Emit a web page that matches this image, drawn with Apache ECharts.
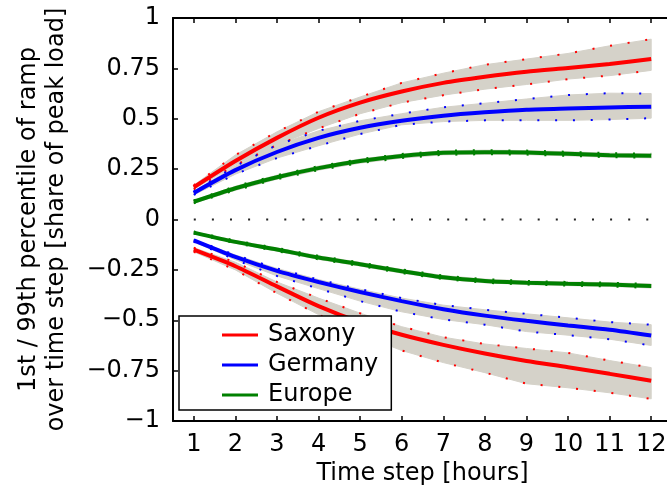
<!DOCTYPE html>
<html>
<head>
<meta charset="utf-8">
<script src="https://cdn.jsdelivr.net/npm/echarts@6/dist/echarts.min.js"></script>
<style>html,body{margin:0;padding:0;background:#fff}#c{width:667px;height:504px}</style>
</head>
<body>
<div id="c"></div>
<script>
// ---------- data ----------
const timeSteps = [1, 2, 3, 4, 5, 6, 7, 8, 9, 10, 11, 12];
const xTickValues = [1, 2, 3, 4, 5, 6, 7, 8, 9, 10, 11, 12];
const yTickValues = [-1, -0.75, -0.5, -0.25, 0, 0.25, 0.5, 0.75, 1];
const regionNames = ['Saxony', 'Germany', 'Europe'];

// 99th percentile (positive ramps)
const saxonyUp   = [0.16, 0.29, 0.405, 0.505, 0.58, 0.635, 0.678, 0.708, 0.733, 0.752, 0.772, 0.796];
const saxonyUpHi = [0.17, 0.32, 0.435, 0.535, 0.608, 0.678, 0.726, 0.768, 0.796, 0.824, 0.862, 0.895];
const saxonyUpLo = [0.15, 0.27, 0.37, 0.452, 0.525, 0.58, 0.617, 0.647, 0.67, 0.697, 0.714, 0.74];

const germanyUp   = [0.132, 0.245, 0.335, 0.405, 0.455, 0.49, 0.515, 0.532, 0.545, 0.551, 0.556, 0.56];
const germanyUpHi = [0.14, 0.265, 0.37, 0.44, 0.49, 0.525, 0.557, 0.577, 0.598, 0.618, 0.627, 0.625];
const germanyUpLo = [0.122, 0.225, 0.305, 0.366, 0.424, 0.47, 0.486, 0.492, 0.492, 0.492, 0.496, 0.503];

const europeUp   = [0.088, 0.155, 0.21, 0.255, 0.29, 0.315, 0.331, 0.334, 0.332, 0.326, 0.319, 0.316];
const europeUpHi = [0.095, 0.165, 0.22, 0.265, 0.3, 0.325, 0.341, 0.344, 0.342, 0.336, 0.329, 0.326];
const europeUpLo = [0.081, 0.145, 0.2, 0.245, 0.28, 0.305, 0.321, 0.324, 0.322, 0.316, 0.309, 0.306];

// 1st percentile (negative ramps)
const saxonyDown   = [-0.15, -0.232, -0.332, -0.43, -0.51, -0.572, -0.622, -0.665, -0.702, -0.733, -0.766, -0.8];
const saxonyDownHi = [-0.14, -0.212, -0.31, -0.39, -0.465, -0.532, -0.584, -0.618, -0.64, -0.662, -0.7, -0.735];
const saxonyDownLo = [-0.16, -0.25, -0.366, -0.472, -0.57, -0.65, -0.71, -0.76, -0.815, -0.835, -0.86, -0.89];

const germanyDown   = [-0.104, -0.186, -0.255, -0.31, -0.36, -0.405, -0.445, -0.477, -0.503, -0.526, -0.547, -0.576];
const germanyDownHi = [-0.1, -0.176, -0.243, -0.298, -0.346, -0.39, -0.425, -0.448, -0.468, -0.488, -0.509, -0.522];
const germanyDownLo = [-0.11, -0.2, -0.28, -0.343, -0.405, -0.458, -0.496, -0.522, -0.556, -0.574, -0.594, -0.625];

const europeDown   = [-0.065, -0.111, -0.149, -0.189, -0.222, -0.257, -0.287, -0.305, -0.314, -0.319, -0.323, -0.33];
const europeDownHi = [-0.06, -0.104, -0.141, -0.18, -0.213, -0.248, -0.278, -0.296, -0.305, -0.31, -0.314, -0.32];
const europeDownLo = [-0.07, -0.118, -0.157, -0.198, -0.231, -0.266, -0.296, -0.314, -0.323, -0.328, -0.332, -0.34];

const zeroLine = [[1, 0], [12, 0]];

// ---------- styling ----------
const FONT = 'DejaVu Sans';
const colors = { Saxony: '#ff0000', Germany: '#0000ff', Europe: '#008000' };
const bandColor = '#d5d2c9';
const SMOOTH = 0.25;

const pts = ys => timeSteps.map((x, i) => [x, ys[i]]);

const groups = [
  ['Saxony', saxonyUp, saxonyUpHi, saxonyUpLo],
  ['Saxony', saxonyDown, saxonyDownHi, saxonyDownLo],
  ['Germany', germanyUp, germanyUpHi, germanyUpLo],
  ['Germany', germanyDown, germanyDownHi, germanyDownLo],
  ['Europe', europeUp, europeUpHi, europeUpLo],
  ['Europe', europeDown, europeDownHi, europeDownLo]
];

const series = [];
// shaded bands (polygon between hi and lo, placed through the axes)
groups.forEach((g, k) => {
  const [name, mid, hi, lo] = g;
  series.push({
    type: 'custom', name: 'band' + k, silent: true, z: 1,
    coordinateSystem: 'cartesian2d',
    data: timeSteps.map((x, i) => [x, lo[i], hi[i]]),
    encode: { x: 0, y: [1, 2] },
    renderItem: (params, api) => {
      if (params.dataIndex !== 0) return null;
      const poly = [];
      for (let i = 0; i < timeSteps.length; i++) poly.push(api.coord([timeSteps[i], hi[i]]));
      for (let i = timeSteps.length - 1; i >= 0; i--) poly.push(api.coord([timeSteps[i], lo[i]]));
      return { type: 'polygon', shape: { points: poly }, style: { fill: bandColor, stroke: bandColor, lineWidth: 1 } };
    }
  });
});
// dotted percentile bounds
groups.forEach((g, k) => {
  const [name, mid, hi, lo] = g;
  [hi, lo].forEach((arr, j) => {
    series.push({
      type: 'line', name: 'dots' + k + '_' + j, data: pts(arr), symbol: 'none', silent: true,
      lineStyle: { color: colors[name], width: 2, type: [2, 15.8] }, z: 2
    });
  });
});
// zero dotted line
series.push({
  type: 'line', name: 'zero', data: zeroLine, symbol: 'none', silent: true,
  lineStyle: { color: '#222', width: 2, type: [2, 16.1] }, z: 2
});
// main lines
groups.forEach((g, k) => {
  const [name, mid] = g;
  series.push({
    type: 'line', name: name, data: pts(mid), symbol: 'none', showSymbol: false, smooth: SMOOTH,
    color: colors[name], lineStyle: { color: colors[name], width: 4 }, z: 3
  });
});

const axisCommon = {
  axisLine: { show: true, onZero: false, lineStyle: { color: '#000', width: 2 } },
  splitLine: { show: false }
};

const option = {
  animation: false,
  backgroundColor: '#fff',
  grid: { left: 173, top: 18, width: 499, height: 403, containLabel: false, outerBoundsMode: 'none' },
  legend: {
    show: true,
    orient: 'vertical',
    left: 179, top: 316,
    padding: [7, 13, 3, 43],
    itemGap: 6,
    itemWidth: 36,
    itemHeight: 3,
    selectedMode: false,
    backgroundColor: '#fff',
    borderColor: '#000',
    borderWidth: 1.5,
    z: 10,
    textStyle: { fontFamily: FONT, fontSize: 24, lineHeight: 24, color: '#000', padding: [0, 0, 0, 5] },
    data: regionNames.map(n => ({ name: n, icon: 'rect', itemStyle: { color: colors[n] } }))
  },
  xAxis: [
    Object.assign({}, axisCommon, {
      type: 'value', min: 0.5, max: 12.5, position: 'bottom',
      axisTick: { show: true, inside: true, length: 5, customValues: xTickValues, lineStyle: { color: '#000', width: 1.5 } },
      axisLabel: { show: true, customValues: xTickValues, margin: 12, fontFamily: FONT, fontSize: 24, color: '#000' },
      name: 'Time step [hours]', nameLocation: 'middle', nameGap: 36,
      nameTextStyle: { fontFamily: FONT, fontSize: 24, color: '#000' }
    }),
    Object.assign({}, axisCommon, {
      type: 'value', min: 0.5, max: 12.5, position: 'top',
      axisTick: { show: true, inside: true, length: 5, customValues: xTickValues, lineStyle: { color: '#000', width: 1.5 } },
      axisLabel: { show: false }
    })
  ],
  yAxis: [
    Object.assign({}, axisCommon, {
      type: 'value', min: yTickValues[0], max: yTickValues[yTickValues.length - 1], interval: 0.25,
      axisTick: { show: true, inside: true, length: 5, lineStyle: { color: '#000', width: 1.5 } },
      axisLabel: {
        show: true, margin: 13, fontFamily: FONT, fontSize: 24, color: '#000',
        formatter: v => {
          if (Math.abs(v) < 1e-9) return '0';
          const s = String(Math.abs(+v.toFixed(2)));
          return (v < 0 ? '\u2212' : '') + s;
        }
      },
      name: '1st / 99th percentile of ramp\nover time step [share of peak load]',
      nameLocation: 'middle', nameRotate: 90, nameGap: 102,
      nameTextStyle: { fontFamily: FONT, fontSize: 24, lineHeight: 28, color: '#000' }
    })
  ],
  series: series
};

const chart = echarts.init(document.getElementById('c'), null, { renderer: 'canvas' });
chart.setOption(option);
</script>
</body>
</html>
